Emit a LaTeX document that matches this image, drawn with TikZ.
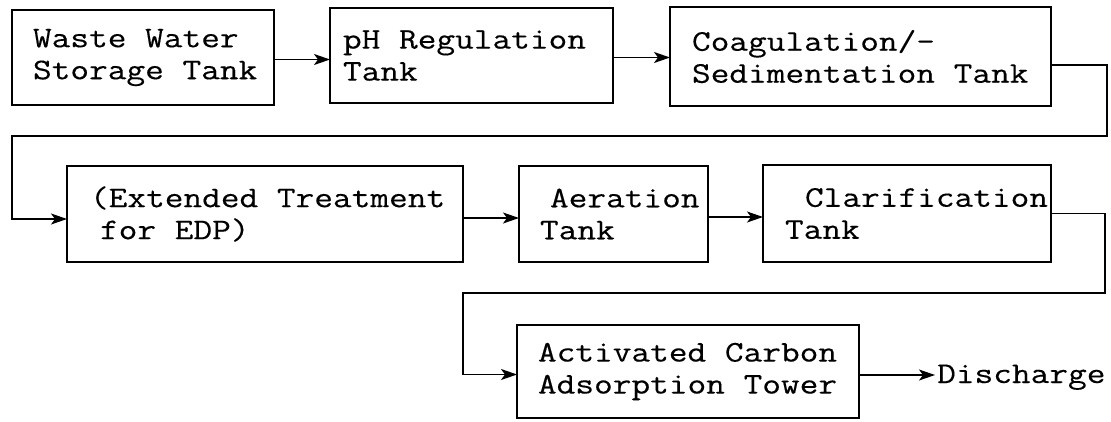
\documentclass[tikz,border=0pt]{standalone}
\usepackage{fontspec}
\usetikzlibrary{arrows.meta,calc}
\newfontfamily\tw{Latin Modern Mono}[FakeStretch=1.21, FakeBold=0.3]
% left-aligned text block inside a box: #1 left margin, #2 box width, #3 lines
\newcommand{\boxlines}[3]{\hspace*{#1}\parbox{\dimexpr #2-#1\relax}{\raggedright #3}}
\begin{document}
\begin{tikzpicture}[x=1pt,y=-1pt,
  box/.style={draw, line width=1.5pt, anchor=north west, inner sep=0pt, outer sep=0pt,
    font=\tw\fontsize{30}{32}\selectfont},
  flow/.style={line width=1.3pt, -{Stealth[length=16pt,width=11pt,inset=4pt]}}]
\useasboundingbox (0,0) rectangle (1111,421);

% first row
\node[box, minimum width=262pt, minimum height=95pt] (storage) at (12,10)
  {\boxlines{21pt}{262pt}{Waste Water\\Storage Tank}};
\node[box, minimum width=283pt, minimum height=95pt] (ph) at (330,8)
  {\boxlines{13pt}{283pt}{pH Regulation\\Tank}};
\node[box, minimum width=381pt, minimum height=99pt] (coag) at (670,7)
  {\boxlines{22pt}{381pt}{Coagulation/-\\Sedimentation Tank}};

% second row
\node[box, minimum width=396pt, minimum height=96pt] (edp) at (67,166)
  {\boxlines{23pt}{396pt}{(Extended Treatment\\\hspace*{10pt}for EDP)}};
\node[box, minimum width=189pt, minimum height=96pt] (aer) at (519,166)
  {\boxlines{21pt}{189pt}{\hspace*{10pt}Aeration\\Tank}};
\node[box, minimum width=288pt, minimum height=97pt] (clar) at (763,165)
  {\boxlines{22pt}{288pt}{\hspace*{20pt}Clarification\\Tank}};

% third row
\node[box, minimum width=342pt, minimum height=93pt] (carbon) at (517,325)
  {\boxlines{21pt}{342pt}{Activated Carbon\\Adsorption Tower}};
\node[anchor=base west, inner xsep=2pt, inner ysep=0pt, font=\tw\fontsize{30}{32}\selectfont]
  (dis) at (935,383) {Discharge};

% return paths between rows
\coordinate (r1) at (1107,136);
\coordinate (l1) at (12,136);
\coordinate (r2) at (1105,293);
\coordinate (l2) at (463,293);

% connectors
\draw[flow] ([yshift=-2pt]storage.east) -- ([yshift=-2pt]storage.east -| ph.west);
\draw[flow] ([yshift=-2pt]ph.east) -- ([yshift=-2pt]ph.east -| coag.west);
\draw[flow] ([yshift=-8.5pt]coag.east) -| (r1) -- (l1) |- ([yshift=-5pt]edp.west);
\draw[flow] ([yshift=-4pt]edp.east) -- ([yshift=-4pt]edp.east -| aer.west);
\draw[flow] ([yshift=-3pt]aer.east) -- ([yshift=-3pt]aer.east -| clar.west);
\draw[flow] (clar.east) -| (r2) -- (l2) |- ([yshift=-3pt]carbon.west);
\draw[flow] ([yshift=-3.5pt]carbon.east) -- ([yshift=-3.5pt]carbon.east -| dis.west);
\end{tikzpicture}
\end{document}
